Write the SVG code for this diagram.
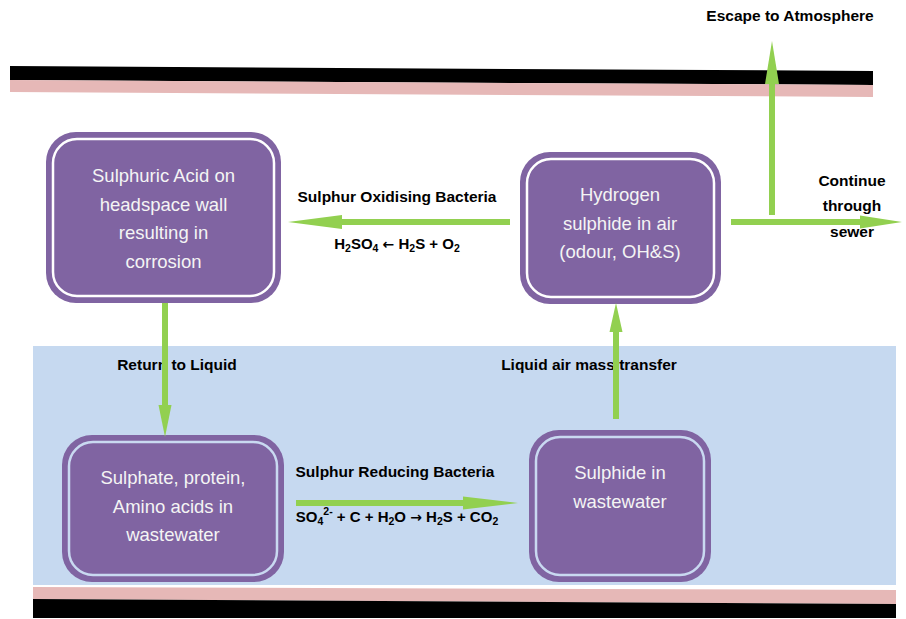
<svg xmlns="http://www.w3.org/2000/svg" width="906" height="619" viewBox="0 0 906 619">
<style>
.nt{font-family:"Liberation Sans",Arial,sans-serif;font-size:18.5px;fill:#f4f4f4;text-anchor:middle}
.lbl{font-family:"Liberation Sans",Arial,sans-serif;font-size:15.5px;font-weight:bold;fill:#000;text-anchor:middle}
.eq{font-family:"Liberation Sans",Arial,sans-serif;font-size:15px;font-weight:bold;fill:#000;text-anchor:middle}
.sub{font-size:10.5px}
.arr{font-family:"DejaVu Sans",sans-serif;font-size:14px}
.outer{fill:#8064a2}
.inW{fill:none;stroke:#ffffff;stroke-width:2.5}
.inB{fill:none;stroke:#c9d9f1;stroke-width:2.5}
.shaft{stroke:#92d050;stroke-width:6;fill:none}
.head{fill:#92d050}
</style>
<rect width="906" height="619" fill="#ffffff"/>
<g id="pipe-top">
<polygon points="10,66 873,71 873,85 10,80" fill="#000000"/>
<polygon points="10,80 873,85 873,97 10,92" fill="#e6b8b7"/>
</g>
<rect id="liquid" x="33" y="346" width="863" height="239" fill="#c6d9f0"/>
<g id="pipe-bottom">
<polygon points="33,587 896,590 896,604 33,599" fill="#e6b8b7"/>
<polygon points="33,599 896,604 896,618 33,618" fill="#000000"/>
</g>
<g id="node-acid">
<rect class="outer" x="46" y="132" width="235" height="171" rx="30"/>
<rect class="inW" x="53" y="139" width="221" height="157" rx="24"/>
<text class="nt" x="163.5" y="182">Sulphuric Acid on</text>
<text class="nt" x="163.5" y="211">headspace wall</text>
<text class="nt" x="163.5" y="239">resulting in</text>
<text class="nt" x="163.5" y="268">corrosion</text>
</g>
<g id="node-h2s-air">
<rect class="outer" x="520" y="152" width="201" height="152" rx="30"/>
<rect class="inW" x="527" y="159" width="187" height="138" rx="24"/>
<text class="nt" x="620" y="201">Hydrogen</text>
<text class="nt" x="620" y="230">sulphide in air</text>
<text class="nt" x="620" y="258">(odour, OH&amp;S)</text>
</g>
<g id="node-sulphate">
<rect class="outer" x="62" y="435" width="222" height="147" rx="30"/>
<rect class="inB" x="69" y="442" width="208" height="133" rx="24"/>
<text class="nt" x="173" y="484">Sulphate, protein,</text>
<text class="nt" x="173" y="513">Amino acids in</text>
<text class="nt" x="173" y="541">wastewater</text>
</g>
<g id="node-sulphide-ww">
<rect class="outer" x="529" y="430" width="182" height="152" rx="30"/>
<rect class="inB" x="536" y="437" width="168" height="138" rx="24"/>
<text class="nt" x="620" y="479">Sulphide in</text>
<text class="nt" x="620" y="508">wastewater</text>
</g>
<g id="labels">
<text class="lbl" x="397" y="202">Sulphur Oxidising Bacteria</text>
<text class="eq" x="397" y="249">H<tspan class="sub" dy="3">2</tspan><tspan dy="-3">SO</tspan><tspan class="sub" dy="3">4</tspan><tspan dy="-3"> </tspan><tspan class="arr">←</tspan><tspan> H</tspan><tspan class="sub" dy="3">2</tspan><tspan dy="-3">S + O</tspan><tspan class="sub" dy="3">2</tspan></text>
<text class="lbl" x="790" y="21">Escape to Atmosphere</text>
<text class="lbl" x="852" y="185.5">Continue</text>
<text class="lbl" x="852" y="210.5">through</text>
<text class="lbl" x="852" y="236.5">sewer</text>
<text class="lbl" x="177" y="370">Return to Liquid</text>
<text class="lbl" x="589" y="370">Liquid air mass transfer</text>
<text class="lbl" x="395" y="477">Sulphur Reducing Bacteria</text>
<text class="eq" x="397" y="522">SO<tspan class="sub" dy="3">4</tspan><tspan class="sub" dy="-10">2-</tspan><tspan dy="7"> + C + H</tspan><tspan class="sub" dy="3">2</tspan><tspan dy="-3">O </tspan><tspan class="arr">→</tspan><tspan> H</tspan><tspan class="sub" dy="3">2</tspan><tspan dy="-3">S + CO</tspan><tspan class="sub" dy="3">2</tspan></text>
</g>
<g id="connectors">
<line class="shaft" x1="510" y1="222" x2="340" y2="222"/>
<polygon class="head" points="288,222 342,215 342,229"/>
<line class="shaft" x1="731" y1="222" x2="862" y2="222"/>
<polygon class="head" points="902,222 860,215.5 860,228.5"/>
<line class="shaft" x1="772" y1="215" x2="772" y2="82"/>
<polygon class="head" points="772,41 765,84 779,84"/>
<line class="shaft" x1="165" y1="303" x2="165" y2="407"/>
<polygon class="head" points="165,437 158.5,405 171.5,405"/>
<line class="shaft" x1="616" y1="419" x2="616" y2="330"/>
<polygon class="head" points="616,303 609.5,332 622.5,332"/>
<line class="shaft" x1="296" y1="503" x2="465" y2="503"/>
<polygon class="head" points="518,503 463,496.5 463,509.5"/>
</g>
</svg>
